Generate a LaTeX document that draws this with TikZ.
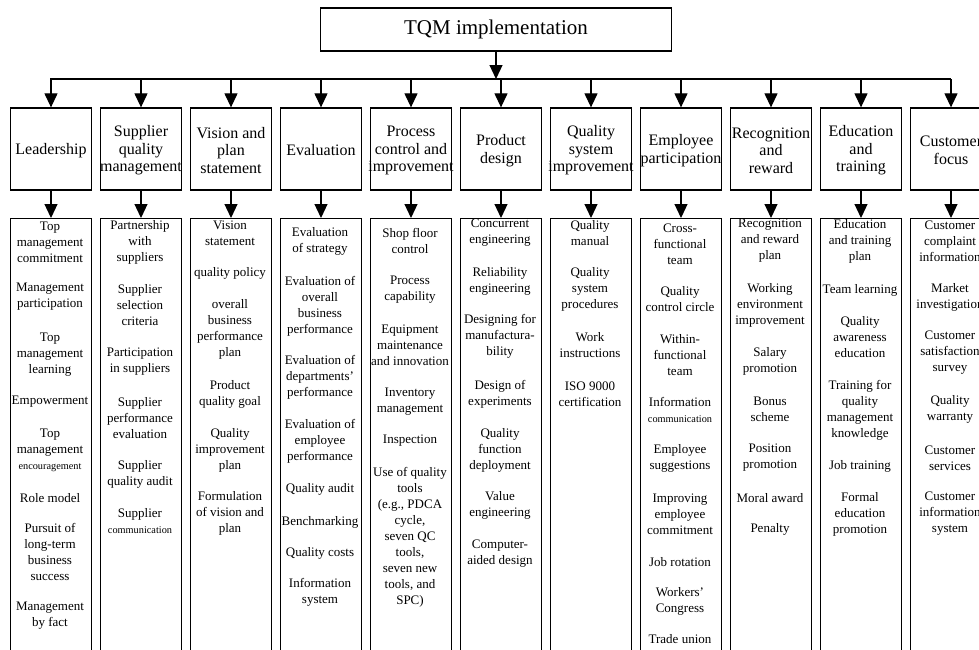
\documentclass[tikz,border=0pt]{standalone}
\usepackage{fontspec}
\setmainfont{Liberation Serif}
\usetikzlibrary{arrows.meta}
\newcommand\smalltxt{\fontsize{10.3}{12}\selectfont}

\begin{document}
\begin{tikzpicture}[x=1pt,y=-1pt,
    arr/.style={line width=1.2pt,-{Triangle[width=13pt,length=14pt]}},
    bus/.style={line width=2.5pt},
    topbox/.style={draw,line width=1.3pt,minimum width=351pt,minimum height=43pt,font=\fontsize{21}{24}\selectfont},
    midbox/.style={draw,line width=1.3pt,minimum width=81.5pt,minimum height=82pt},
    midtext/.style={align=center,inner sep=0pt,font=\fontsize{16}{17.5}\selectfont},
    lowbox/.style={draw,line width=1.3pt,minimum width=81.5pt,minimum height=460pt,anchor=north},
    item/.style={align=center,inner sep=0pt,font=\fontsize{13}{16}\selectfont}]
  \clip (0,0) rectangle (979,649);

  \node[topbox] (top) at (496,29.5) {TQM implementation};
  \coordinate (busL) at (50,79);
  \coordinate (busR) at (951,79);
  \draw[bus] (busL) -- (busR);
  \draw[arr] (top.south) -- (top.south |- busL);

  % the eleven columns
  \foreach \i/\nm/\txt in {0/ld/Leadership, 1/sq/{Supplier\\quality\\management},
      2/vp/{Vision and\\plan\\statement}, 3/ev/Evaluation,
      4/pc/{Process\\control and\\improvement}, 5/pd/{Product\\design},
      6/qs/{Quality\\system\\improvement}, 7/ep/{Employee\\participation},
      8/rr/{Recognition\\and\\reward}, 9/et/{Education\\and\\training},
      10/cf/{Customer\\focus}} {
    \node[midbox] (m\nm) at (51+90*\i,149) {};
    \node[midtext] (t\nm) at (51+90*\i,150.5) {\txt};
    \node[lowbox] (b\nm) at (51+90*\i,218) {};
    \draw[arr] (busL -| m\nm) -- (m\nm.north);
    \draw[arr] (m\nm.south) -- (b\nm.north);
  }

  % Leadership
  \node[item] (ld1) at (50,242) {Top\\management\\commitment};
  \node[item] (ld2) at (50,297) {Management\\participation};
  \node[item] (ld3) at (50,355) {Top\\management\\learning};
  \node[item] (ld4) at (50,402) {Empowerment};
  \node[item] (ld5) at (50,450) {Top\\management\\{\smalltxt encouragement}};
  \node[item] (ld6) at (50,498) {Role model};
  \node[item] (ld7) at (50,552) {Pursuit of\\long-term\\business\\success};
  \node[item] (ld8) at (50,616) {Management\\by fact};

  % Supplier quality management
  \node[item] (sq1) at (140,242) {Partnership\\with\\suppliers};
  \node[item] (sq2) at (140,305) {Supplier\\selection\\criteria};
  \node[item] (sq3) at (140,362) {Participation\\in suppliers};
  \node[item] (sq4) at (140,418) {Supplier\\performance\\evaluation};
  \node[item] (sq5) at (140,474) {Supplier\\quality audit};
  \node[item] (sq6) at (140,521) {Supplier\\{\smalltxt communication}};

  % Vision and plan statement
  \node[item] (vp1) at (230,233) {Vision\\statement};
  \node[item] (vp2) at (230,273) {quality policy};
  \node[item] (vp3) at (230,329) {overall\\business\\performance\\plan};
  \node[item] (vp4) at (230,394) {Product\\quality goal};
  \node[item] (vp5) at (230,450) {Quality\\improvement\\plan};
  \node[item] (vp6) at (230,513) {Formulation\\of vision and\\plan};

  % Evaluation
  \node[item] (ev1) at (320,241) {Evaluation\\of strategy};
  \node[item] (ev2) at (320,306) {Evaluation of\\overall\\business\\performance};
  \node[item] (ev3) at (320,377) {Evaluation of\\departments'\\performance};
  \node[item] (ev4) at (320,441) {Evaluation of\\employee\\performance};
  \node[item] (ev5) at (320,489) {Quality audit};
  \node[item] (ev6) at (320,522) {Benchmarking};
  \node[item] (ev7) at (320,553) {Quality costs};
  \node[item] (ev8) at (320,592) {Information\\system};

  % Process control and improvement
  \node[item] (pc1) at (410,241) {Shop floor\\control};
  \node[item] (pc2) at (410,289.5) {Process\\capability};
  \node[item] (pc3) at (410,345) {Equipment\\maintenance\\and innovation};
  \node[item] (pc4) at (410,401.5) {Inventory\\management};
  \node[item] (pc5) at (410,441) {Inspection};
  \node[item] (pc6) at (410,537.5) {Use of quality\\tools\\(e.g., PDCA\\cycle,\\seven QC\\tools,\\seven new\\tools, and\\SPC)};

  % Product design
  \node[item] (pd1) at (500,233) {Concurrent\\engineering};
  \node[item] (pd2) at (500,281.5) {Reliability\\engineering};
  \node[item] (pd3) at (500,336.5) {Designing for\\manufactura-\\bility};
  \node[item] (pd4) at (500,394) {Design of\\experiments};
  \node[item] (pd5) at (500,450) {Quality\\function\\deployment};
  \node[item] (pd6) at (500,505) {Value\\engineering};
  \node[item] (pd7) at (500,554) {Computer-\\aided design};

  % Quality system improvement
  \node[item] (qs1) at (590,233) {Quality\\manual};
  \node[item] (qs2) at (590,289) {Quality\\system\\procedures};
  \node[item] (qs3) at (590,345) {Work\\instructions};
  \node[item] (qs4) at (590,394) {ISO 9000\\certification};

  % Employee participation
  \node[item] (ep1) at (680,244) {Cross-\\functional\\team};
  \node[item] (ep2) at (680,299) {Quality\\control circle};
  \node[item] (ep3) at (680,355) {Within-\\functional\\team};
  \node[item] (ep4) at (680,410) {Information\\{\smalltxt communication}};
  \node[item] (ep5) at (680,458) {Employee\\suggestions};
  \node[item] (ep6) at (680,514) {Improving\\employee\\commitment};
  \node[item] (ep7) at (680,562) {Job rotation};
  \node[item] (ep8) at (680,601) {Workers'\\Congress};
  \node[item] (ep9) at (680,639) {Trade union};

  % Recognition and reward
  \node[item] (rr1) at (770,241) {Recognition\\and reward\\plan};
  \node[item] (rr2) at (770,305) {Working\\environment\\improvement};
  \node[item] (rr3) at (770,361) {Salary\\promotion};
  \node[item] (rr4) at (770,409.5) {Bonus\\scheme};
  \node[item] (rr5) at (770,458) {Position\\promotion};
  \node[item] (rr6) at (770,498) {Moral award};
  \node[item] (rr7) at (770,529) {Penalty};

  % Education and training
  \node[item] (et1) at (860,241) {Education\\and training\\plan};
  \node[item] (et2) at (860,290) {Team learning};
  \node[item] (et3) at (860,337) {Quality\\awareness\\education};
  \node[item] (et4) at (860,410) {Training for\\quality\\management\\knowledge};
  \node[item] (et5) at (860,466) {Job training};
  \node[item] (et6) at (860,514) {Formal\\education\\promotion};

  % Customer focus
  \node[item] (cf1) at (950,241) {Customer\\complaint\\information};
  \node[item] (cf2) at (950,297) {Market\\investigation};
  \node[item] (cf3) at (950,353) {Customer\\satisfaction\\survey};
  \node[item] (cf4) at (950,409.5) {Quality\\warranty};
  \node[item] (cf5) at (950,458) {Customer\\services};
  \node[item] (cf6) at (950,514) {Customer\\information\\system};
\end{tikzpicture}
\end{document}
